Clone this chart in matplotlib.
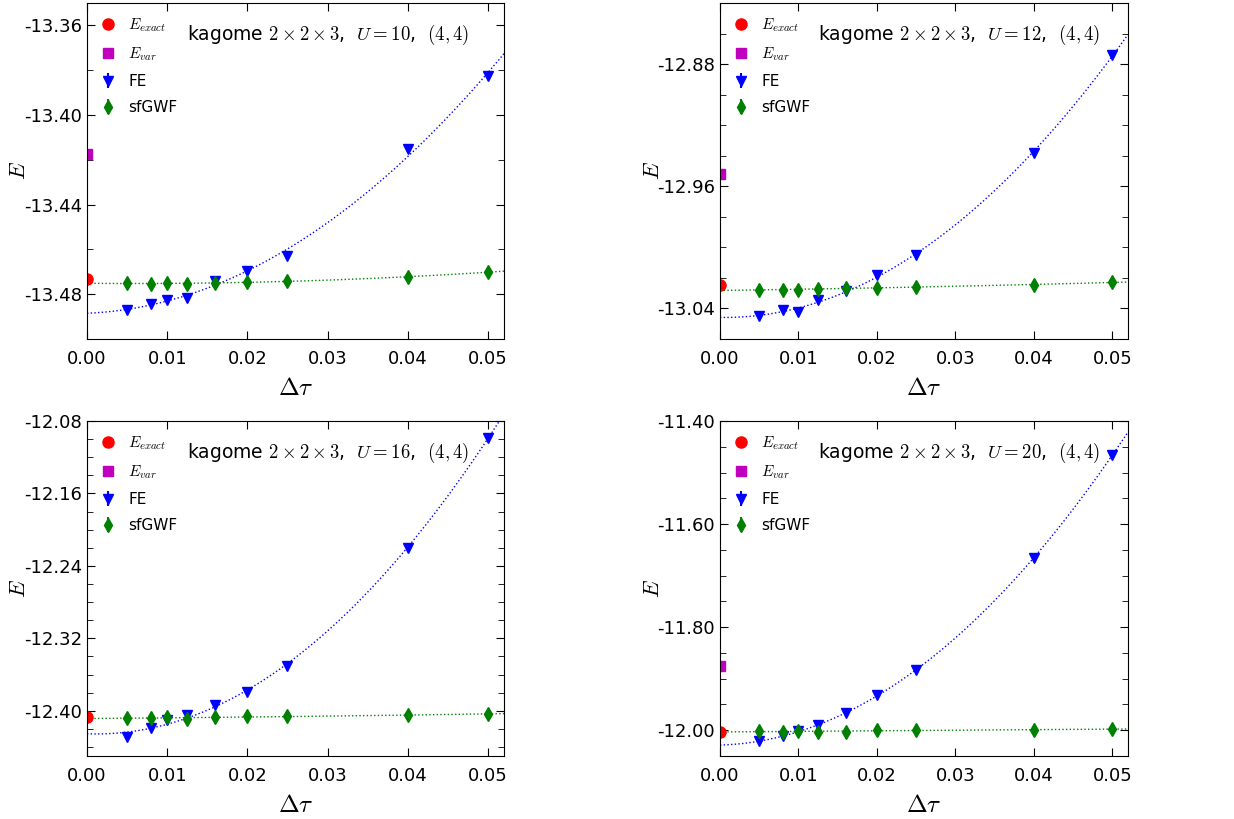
import numpy as np
import matplotlib
matplotlib.use('Agg')
import matplotlib.pyplot as plt
from matplotlib.ticker import MultipleLocator, FormatStrFormatter

plt.rcParams['mathtext.fontset'] = 'cm'
plt.rcParams['font.family'] = 'DejaVu Sans'

# passos de tempo
dtau = [0.005, 0.008, 0.01, 0.0125, 0.016, 0.02, 0.025, 0.04, 0.05]

# valores de U
u_vals = [10, 12, 16, 20]

# energias exatas e variacionais
e_exact = [-13.4734, -13.0249, -12.407, -12.004]
e_var = [-13.4174, -12.952, np.nan, -11.876]

# energias FE
fe_u10 = [-13.4869, -13.4842, -13.4824, -13.4819, -13.4742, -13.4696, -13.4629, -13.4153, -13.3825]
fe_u12 = [-13.0450, -13.0411, -13.0422, -13.0345, -13.0284, -13.0182, -13.0051, -12.9381, -12.8741]
fe_u16 = [-12.4294, -12.4191, -12.4099, -12.4044, -12.3934, -12.3794, -12.3511, -12.2198, -12.0984]
fe_u20 = [-12.0214, -12.0116, -12.0019, -11.9904, -11.9665, -11.9323, -11.8826, -11.6661, -11.4659]

# energias sfGWF
gwf_u10 = [-13.4749, -13.4755, -13.4752, -13.4754, -13.4749, -13.4746, -13.4742, -13.4722, -13.4702]
gwf_u12 = [-13.0276, -13.0280, -13.0276, -13.0271, -13.0269, -13.0263, -13.0258, -13.0247, -13.0228]
gwf_u16 = [-12.4081, -12.4081, -12.4074, -12.4088, -12.4074, -12.4063, -12.4063, -12.4052, -12.4033]
gwf_u20 = [-12.0019, -12.0030, -12.0019, -12.0030, -12.0030, -11.9994, -11.9994, -12.0000, -11.9974]

# barras de erro (pequenas)
err_fe = [0.0004, 0.0004, 0.0004, 0.0004, 0.0004, 0.0004, 0.0004, 0.0004, 0.0004]
err_gwf = [0.0004, 0.0004, 0.0004, 0.0004, 0.0004, 0.0004, 0.0004, 0.0004, 0.0004]

fe_all = [fe_u10, fe_u12, fe_u16, fe_u20]
gwf_all = [gwf_u10, gwf_u12, gwf_u16, gwf_u20]

# limites e ticks de cada painel
ylims = [(-13.50, -13.35), (-13.06, -12.84), (-12.45, -12.08), (-12.05, -11.40)]
ymajor = [0.04, 0.08, 0.08, 0.2]
yminor = [0.02, 0.02, 0.02, 0.05]

# posicoes em pixels: esquerda, direita, topo, base
caixas = [(87, 504, 3, 339), (720, 1128, 3, 339), (87, 504, 421, 756), (720, 1128, 421, 756)]

W, H = 1234, 819
fig = plt.figure(figsize=(W / 100, H / 100), dpi=100)

for i in range(4):
    l, r, t, b = caixas[i]
    ax = fig.add_axes([l / W, 1 - b / H, (r - l) / W, (b - t) / H])

    x = np.array(dtau)
    fe = np.array(fe_all[i])
    gwf = np.array(gwf_all[i])

    # ajuste quadratico
    xs = np.linspace(0, 0.052, 200)
    p_fe = np.polyfit(x, fe, 2)
    p_gwf = np.polyfit(x, gwf, 2)
    ax.plot(xs, np.polyval(p_fe, xs), ':', color='b', lw=1.0)
    ax.plot(xs, np.polyval(p_gwf, xs), ':', color='g', lw=1.0)

    h1, = ax.plot([0], [e_exact[i]], 'o', color='r', ms=8, mec='r')
    h2, = ax.plot([0], [e_var[i]], 's', color='m', ms=7, mec='m')
    h3 = ax.errorbar(x, fe, yerr=err_fe, fmt='v', color='b', mec='b', ms=7)
    h4 = ax.errorbar(x, gwf, yerr=err_gwf, fmt='d', color='g', mec='g', ms=7)

    ax.set_xlim(0, 0.052)
    ax.set_ylim(*ylims[i])
    ax.xaxis.set_major_locator(MultipleLocator(0.01))
    ax.xaxis.set_major_formatter(FormatStrFormatter('%.2f'))
    ax.yaxis.set_major_locator(MultipleLocator(ymajor[i]))
    ax.yaxis.set_minor_locator(MultipleLocator(yminor[i]))
    ax.yaxis.set_major_formatter(FormatStrFormatter('%.2f'))
    ax.tick_params(which='both', direction='in', top=True, right=True, labelsize=13)
    ax.tick_params(which='major', length=6)
    ax.tick_params(which='minor', length=4)
    ax.tick_params(axis='x', pad=8)

    ax.set_xlabel(r'$\Delta\tau$', fontsize=18, labelpad=6)
    ax.set_ylabel(r'$E$', fontsize=16)
    ax.yaxis.set_label_coords(-0.14, 0.5)

    ax.legend([h1, h2, h3, h4], [r'$E_{exact}$', r'$E_{var}$', 'FE', 'sfGWF'],
              loc='upper left', frameon=False, numpoints=1, fontsize=11,
              handlelength=1.0, handletextpad=0.8, labelspacing=0.72,
              borderaxespad=0.5)

    ax.text(0.24, 0.905, r'kagome $2\times2\times3$,  $U=%d$,  $(4,4)$' % u_vals[i],
            transform=ax.transAxes, ha='left', va='center', fontsize=13.5)

plt.savefig('out.png', dpi=100)
